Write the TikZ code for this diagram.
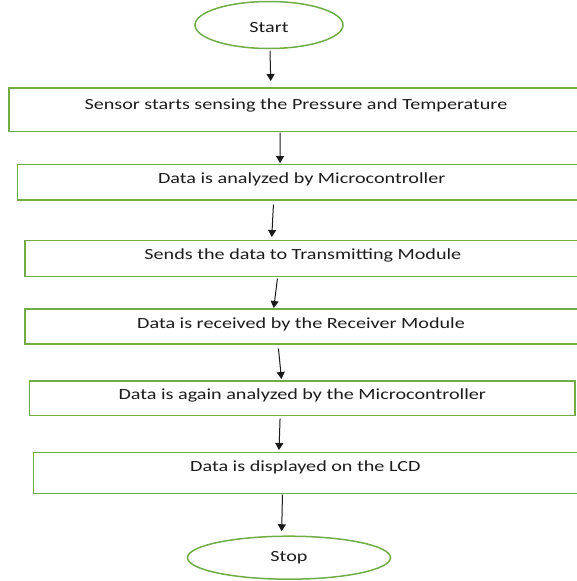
\documentclass[tikz,border=0pt]{standalone}
\usepackage{fontspec}
\usetikzlibrary{shapes.geometric,arrows.meta}
\newfontfamily\flowfont{Carlito}[FakeStretch=1.3]
\definecolor{boxgreen}{HTML}{70AD47}
\definecolor{inkgray}{HTML}{1C1C1C}
\tikzset{
  stepbox/.style={draw=boxgreen, line width=1.5pt, rectangle, inner sep=0pt,
    anchor=north west, text height=19pt, text=inkgray,
    font=\flowfont\fontsize{15.5}{18}\selectfont},
  terminal/.style={draw=boxgreen, line width=1.5pt, ellipse, inner sep=0pt,
    text=inkgray, font=\flowfont\fontsize{15.5}{18}\selectfont},
  flow/.style={draw=black!90, line width=1pt, -{Triangle[length=7pt,width=8pt]}}
}
\begin{document}
\begin{tikzpicture}[x=1pt,y=-1pt]
\useasboundingbox (0,0) rectangle (577,581);
\fill[white] (0,0) rectangle (577,581);
\clip (0,0) rectangle (577,581);

% terminals
\node[terminal, minimum width=148pt, minimum height=47pt, text height=14pt, text depth=0pt] (start) at (269,25) {Start};
\node[terminal, minimum width=203pt, minimum height=43pt] (stop) at (289,557.7) {Stop};

% process steps (the wider ones run past the right margin)
\node[stepbox, minimum width=573.7pt, text height=21pt, text depth=22.4pt] (b1) at (8.3,87.3)
  {Sensor starts sensing the Pressure and Temperature};
\node[stepbox, minimum width=568.6pt, text depth=16.3pt] (b2) at (16.7,163.7)
  {Data is analyzed by Microcontroller};
\node[stepbox, minimum width=555.7pt, text depth=17pt] (b3) at (24.3,239.5)
  {Sends the data to Transmitting Module};
\node[stepbox, minimum width=552.5pt, text depth=16pt] (b4) at (24,308.3)
  {Data is received by the Receiver Module};
\node[stepbox, minimum width=545.6pt, text depth=15.8pt] (b5) at (28.7,380)
  {Data is again analyzed by the Microcontroller};
\node[stepbox, minimum width=543.8pt, text depth=22pt] (b6) at (32.7,451.7)
  {Data is displayed on the LCD};

% connectors
\draw[flow] ([shift={(1,1.5)}]start.south) -- ([shift={(-25.15,-6.3)}]b1.north);
\draw[flow] ([shift={(-15.85,0.3)}]b1.south) -- ([shift={(-21.7,-0.7)}]b2.north);
\draw[flow] ([shift={(-28.3,4)}]b2.south) -- ([shift={(-31.15,-2.5)}]b3.north);
\draw[flow] ([shift={(-25.45,1.5)}]b3.south) -- ([shift={(-27.25,-0.3)}]b4.north);
\draw[flow] ([shift={(-22.55,3.7)}]b4.south) -- ([shift={(-20.8,-1)}]b5.north);
\draw[flow] ([shift={(-22.2,2.2)}]b5.south) -- ([shift={(-26.3,-1.7)}]b6.north);
\draw[flow] ([shift={(-22.9,0.3)}]b6.south) -- ([shift={(-7.3,-4.2)}]stop.north);
\end{tikzpicture}
\end{document}
